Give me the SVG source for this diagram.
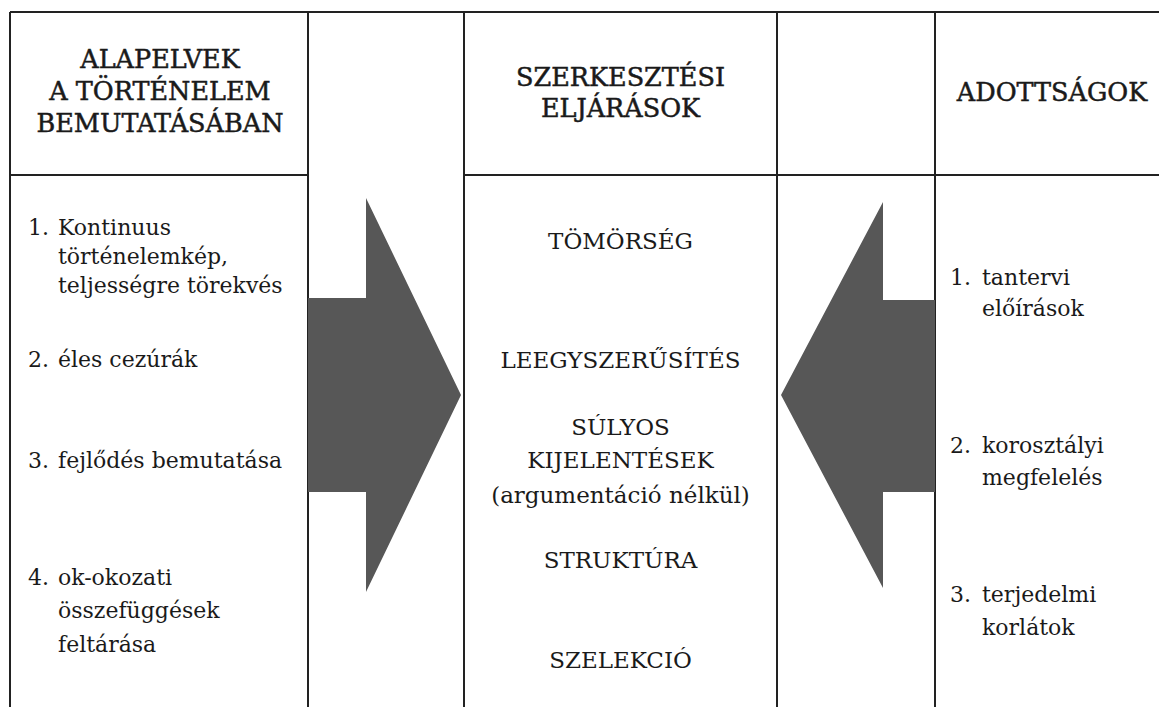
<svg xmlns="http://www.w3.org/2000/svg" width="1159" height="707" viewBox="0 0 1159 707">
<style>
.ln{stroke:#222;stroke-width:2;fill:none}
.hd{font-family:"DejaVu Serif","Liberation Serif",serif;font-size:25.5px;fill:#1a1a1a;stroke:#1a1a1a;stroke-width:0.5;text-anchor:middle}
.bd{font-family:"DejaVu Serif","Liberation Serif",serif;font-size:22px;fill:#1a1a1a}
.ct{font-family:"DejaVu Serif","Liberation Serif",serif;font-size:23px;fill:#1a1a1a;text-anchor:middle}
.ar{fill:#575757}
</style>
<rect x="0" y="0" width="1159" height="707" fill="#fff"/>
<g id="grid">
<path class="ln" d="M10 12 H1159 M10 12 V707 M308 12 V707 M464 12 V707 M777 12 V707 M935 12 V707 M10 175 H308 M464 175 H1159"/>
</g>
<g id="connectors">
<polygon class="ar" points="308,298 366,298 366,198 461,395 366,592 366,492 308,492"/>
<polygon class="ar" points="935,300 883,300 883,202 781,395 883,588 883,492 935,492"/>
</g>
<g id="header-alapelvek">
<text class="hd" x="160" y="68">ALAPELVEK</text>
<text class="hd" x="160" y="100">A TÖRTÉNELEM</text>
<text class="hd" x="160" y="132">BEMUTATÁSÁBAN</text>
</g>
<g id="header-szerkesztesi">
<text class="hd" x="620.5" y="86">SZERKESZTÉSI</text>
<text class="hd" x="620.5" y="117">ELJÁRÁSOK</text>
</g>
<g id="header-adottsagok">
<text class="hd" x="1052" y="101">ADOTTSÁGOK</text>
</g>
<g id="alapelvek">
<text class="bd" x="28" y="235">1.</text>
<text class="bd" x="58" y="235">Kontinuus</text>
<text class="bd" x="58" y="264">történelemkép,</text>
<text class="bd" x="58" y="293">teljességre törekvés</text>
<text class="bd" x="28" y="367">2.</text>
<text class="bd" x="58" y="367">éles cezúrák</text>
<text class="bd" x="28" y="468">3.</text>
<text class="bd" x="58" y="468">fejlődés bemutatása</text>
<text class="bd" x="28" y="585">4.</text>
<text class="bd" x="58" y="585">ok-okozati</text>
<text class="bd" x="58" y="618">összefüggések</text>
<text class="bd" x="58" y="652">feltárása</text>
</g>
<g id="eljarasok">
<text class="ct" x="620.5" y="249">TÖMÖRSÉG</text>
<text class="ct" x="620.5" y="368">LEEGYSZERŰSÍTÉS</text>
<text class="ct" x="620.5" y="435">SÚLYOS</text>
<text class="ct" x="620.5" y="468">KIJELENTÉSEK</text>
<text class="ct" x="620.5" y="503">(argumentáció nélkül)</text>
<text class="ct" x="620.5" y="568">STRUKTÚRA</text>
<text class="ct" x="620.5" y="668">SZELEKCIÓ</text>
</g>
<g id="adottsagok">
<text class="bd" x="950" y="285">1.</text>
<text class="bd" x="982" y="285">tantervi</text>
<text class="bd" x="982" y="316">előírások</text>
<text class="bd" x="950" y="453">2.</text>
<text class="bd" x="982" y="453">korosztályi</text>
<text class="bd" x="982" y="485">megfelelés</text>
<text class="bd" x="950" y="602">3.</text>
<text class="bd" x="982" y="602">terjedelmi</text>
<text class="bd" x="982" y="635">korlátok</text>
</g>
</svg>
